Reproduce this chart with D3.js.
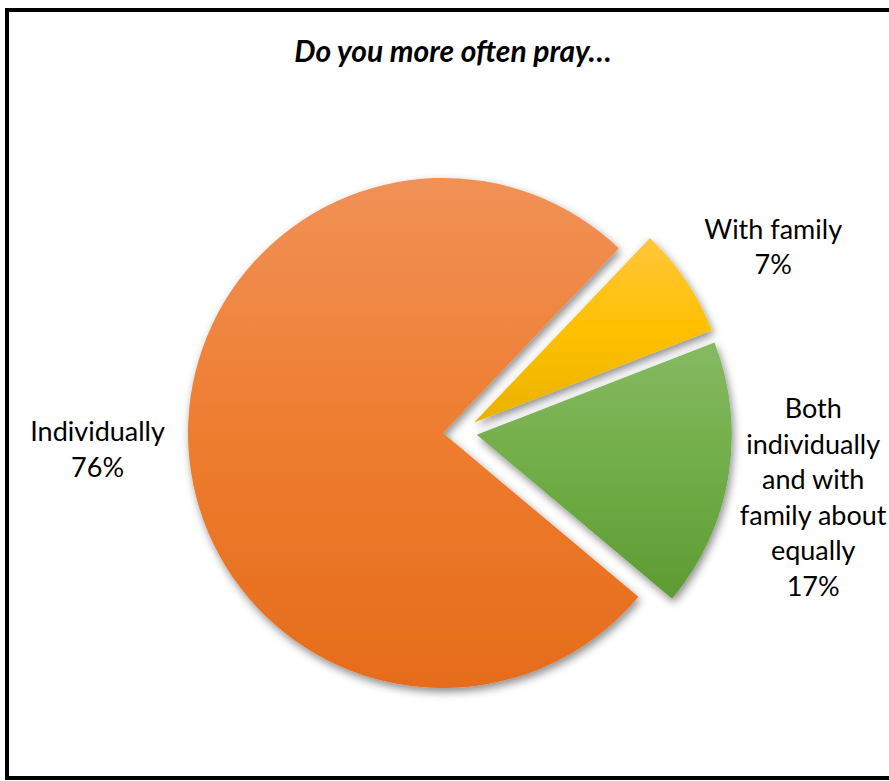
<!DOCTYPE html>
<html>
<head>
<meta charset="utf-8" />
<title>Do you more often pray</title>
<style>
body { margin: 0; background: #fff; }
#graph { width: 889px; height: 781px; }
text { font-family: Lato, "Open Sans", sans-serif; fill: #000; }
</style>
</head>
<body>
<div id="graph"></div>
<script src="https://d3js.org/d3.v7.min.js"></script>
<script>
// chart values
var categories = ["Individually", "With family", "Both individually and with family about equally"];
var values = [76, 7, 17];
var labelLines = [
    ["Individually", "76%"],
    ["With family", "7%"],
    ["Both", "individually", "and with", "family about", "equally", "17%"]
];
var colors = [
    ["#f19157", "#ee7d2f", "#e56c1b"],
    ["#ffc63c", "#ffc000", "#e9b200"],
    ["#86ba62", "#70ad47", "#5e9b33"]
];
var title = "Do you more often pray\u2026";

!(function(){
    "use strict"
    var width = 889, height = 781;
    var cx = 460, cy = 432, radius = 255, explode = 17, labelRadius = 360;

    var svg = d3.select("#graph").append("svg")
        .attr("width", width).attr("height", height);

    var defs = svg.append("defs");
    var shadow = defs.append("filter").attr("id", "shadow")
        .attr("x", "-20%").attr("y", "-20%").attr("width", "140%").attr("height", "140%");
    shadow.append("feDropShadow")
        .attr("dx", 2).attr("dy", 4).attr("stdDeviation", 4)
        .attr("flood-color", "#000").attr("flood-opacity", 0.45);

    colors.forEach(function(c, i){
        var g = defs.append("linearGradient").attr("id", "grad" + i)
            .attr("x1", 0).attr("y1", 0).attr("x2", 0).attr("y2", 1);
        g.append("stop").attr("offset", "0%").attr("stop-color", c[0]);
        g.append("stop").attr("offset", "50%").attr("stop-color", c[1]);
        g.append("stop").attr("offset", "100%").attr("stop-color", c[2]);
    });

    // frame (right edge runs off the picture)
    svg.append("rect")
        .attr("x", 7).attr("y", 10)
        .attr("width", 920).attr("height", 768)
        .attr("fill", "none").attr("stroke", "#000").attr("stroke-width", 4);

    svg.append("text")
        .attr("x", 453).attr("y", 62)
        .attr("text-anchor", "middle")
        .style("font-size", "30px").style("font-weight", "bold").style("font-style", "italic")
        .text(title);

    var data = categories.map(function(c, i){ return { name: c, value: values[i], index: i } });

    var pie = d3.pie()
        .sort(null)
        .value(function(d){ return d.value })
        .startAngle(130 * Math.PI / 180)
        .endAngle(490 * Math.PI / 180);

    var arc = d3.arc().innerRadius(0).outerRadius(radius);
    var arcs = pie(data);

    var chartLayer = svg.append("g").attr("transform", "translate(" + [cx, cy] + ")");

    chartLayer.selectAll(".slice")
        .data(arcs)
        .enter().append("path").classed("slice", true)
        .attr("transform", function(d){
            var a = (d.startAngle + d.endAngle) / 2;
            return "translate(" + [explode * Math.sin(a), -explode * Math.cos(a)] + ")";
        })
        .attr("d", arc)
        .attr("fill", function(d){ return "url(#grad" + d.data.index + ")" })
        .attr("filter", "url(#shadow)");

    // best-fit style nudges for the label blocks
    var nudge = { 0: [-3, -1], 1: [14, 17], 2: [-2, 8] };
    var lineH = 35.5;
    var labels = chartLayer.selectAll(".label")
        .data(arcs)
        .enter().append("text").classed("label", true)
        .attr("text-anchor", "middle")
        .style("font-size", "27px")
        .attr("transform", function(d){
            var a = (d.startAngle + d.endAngle) / 2;
            var n = labelLines[d.data.index].length;
            var off = nudge[d.data.index];
            var x = labelRadius * Math.sin(a) + off[0];
            var y = -labelRadius * Math.cos(a) - (n - 1) * lineH / 2 + 8 + off[1];
            return "translate(" + [x, y] + ")";
        });

    labels.selectAll("tspan")
        .data(function(d){ return labelLines[d.data.index] })
        .enter().append("tspan")
        .attr("x", 0)
        .attr("y", function(d, i){ return i * lineH })
        .text(function(d){ return d });
}());
</script>
</body>
</html>
